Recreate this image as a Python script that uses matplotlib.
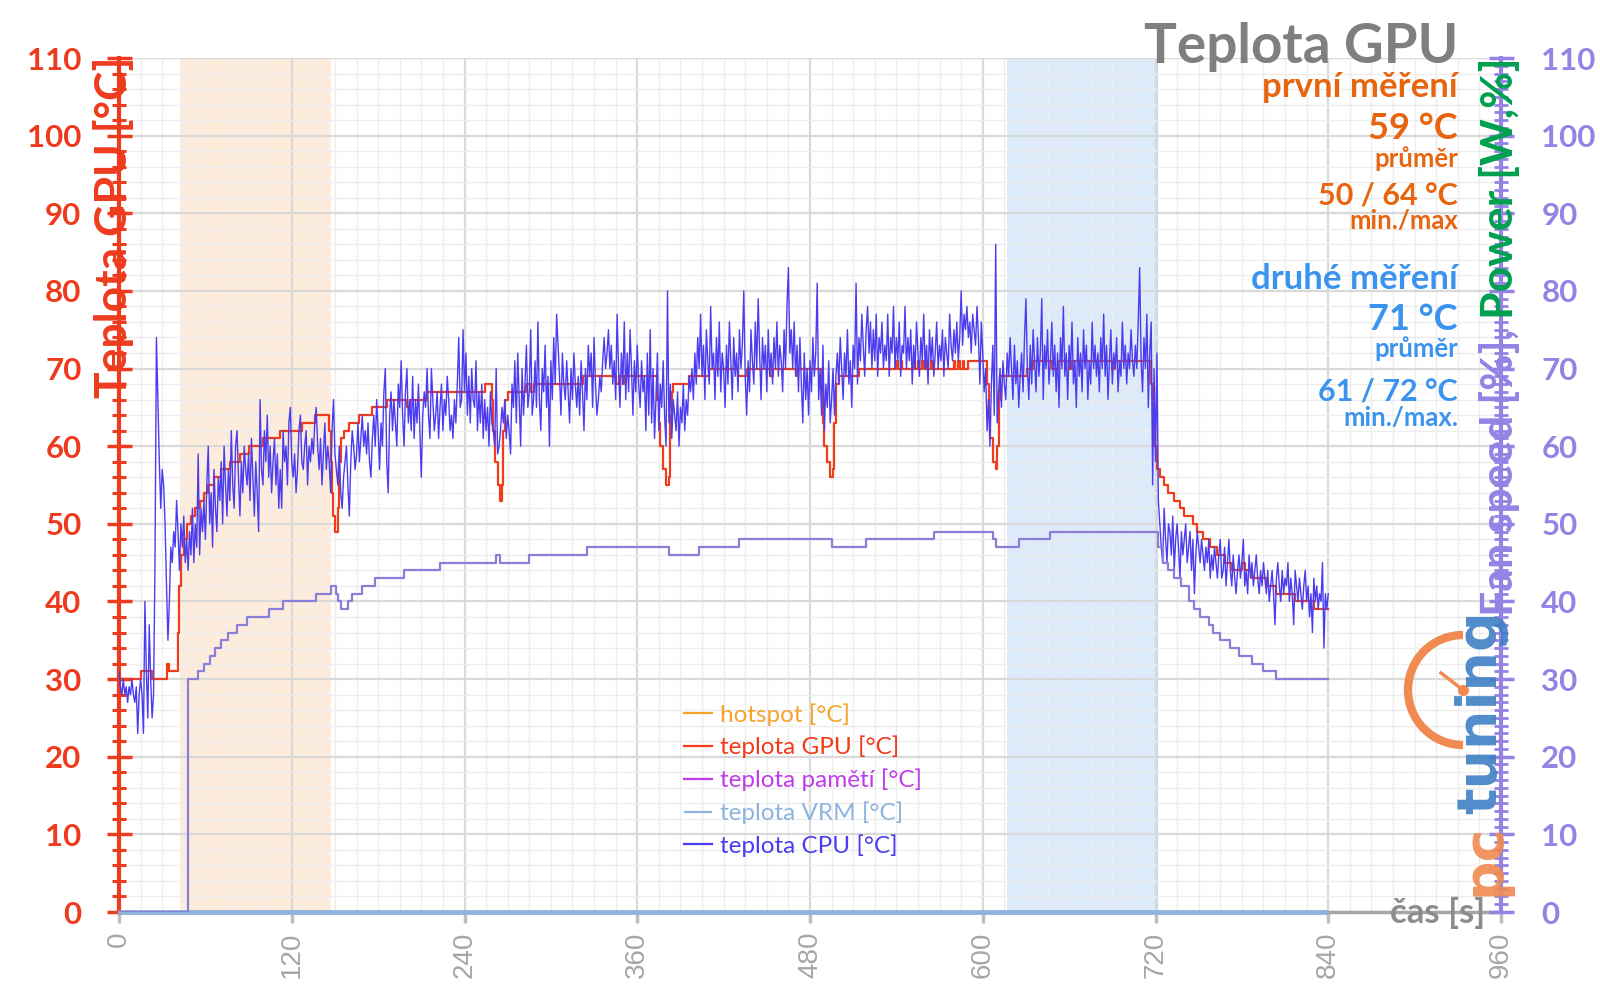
import matplotlib
matplotlib.use('Agg')
import matplotlib.pyplot as plt
from matplotlib.patches import Arc
import numpy as np

# ---------------- data ----------------
x_ticks = [0, 120, 240, 360, 480, 600, 720, 840, 960]
x_tick_labels = ['0', '120', '240', '360', '480', '600', '720', '840', '960']
y_ticks = [0, 10, 20, 30, 40, 50, 60, 70, 80, 90, 100, 110]
y_tick_labels = ['0', '10', '20', '30', '40', '50', '60', '70', '80', '90', '100', '110']

phase1 = (42.6, 147)   # first measurement window [s]
phase2 = (617, 720)    # second measurement window [s]

# teplota GPU [°C] (step changes)
gpu_t = [0, 15, 23, 33, 35, 41, 42, 43, 45, 47, 50, 53, 56, 59, 62, 66, 71, 77, 84, 90,
         100, 112, 127, 136, 146, 147, 148, 149, 150, 152, 153, 154, 156, 160, 167,
         176, 186, 200, 202, 214, 254, 259, 260, 261, 263, 265, 266, 267, 268, 270,
         283, 286, 288, 322, 345, 347, 350, 351, 374, 375, 376, 378, 380, 382, 383,
         384, 385, 396, 410, 430, 436, 452, 454, 471, 472, 488, 489, 490, 492, 494,
         496, 497, 498, 500, 514, 540, 541, 543, 544, 552, 553, 555, 556, 558, 559,
         561, 562, 564, 565, 580, 581, 583, 584, 586, 587, 590, 603, 604, 605, 607,
         609, 610, 611, 612, 631, 635, 648, 652, 660, 662, 690, 692, 717, 718, 719,
         721, 723, 726, 729, 733, 737, 740, 746, 749, 753, 758, 763, 768, 773, 780,
         782, 787, 797, 804, 817, 830, 840]
gpu_v = [30, 31, 30, 32, 31, 36, 42, 46, 48, 50, 51, 52, 53, 54, 55, 56, 57, 58, 59, 60,
         61, 62, 63, 64, 62, 58, 54, 51, 49, 52, 58, 61, 62, 63, 64,
         65, 66, 65, 66, 67, 68, 66, 62, 58, 55, 53, 55, 62, 66, 67,
         68, 67, 68, 69, 68, 69, 68, 69, 66, 63, 60, 57, 55, 56, 64,
         67, 68, 69, 70, 69, 70, 69, 70, 69, 70, 67, 63, 60, 58, 56,
         57, 63, 68, 69, 70, 71, 70, 71, 70, 71, 70, 71, 70, 71, 70,
         71, 70, 71, 70, 71, 70, 71, 70, 71, 70, 71, 68, 64, 61, 58,
         57, 60, 66, 69, 70, 71, 70, 71, 70, 71, 70, 71, 68, 63, 60,
         57, 56, 55, 54, 53, 52, 51, 50, 49, 48, 47, 46, 45, 44, 45,
         44, 43, 42, 41, 40, 39, 39]

# teplota CPU [°C], one sample per second, rows of 20 s
cpu_rows = [
    [31, 29, 28, 30, 28, 29, 27, 29, 28, 30, 28, 27, 29, 23, 28, 30, 28, 23, 40, 31],
    [25, 37, 30, 25, 28, 45, 74, 66, 58, 52, 57, 55, 50, 42, 35, 40, 47, 45, 49, 47],
    [53, 49, 44, 50, 47, 51, 45, 48, 44, 49, 46, 52, 45, 50, 47, 59, 46, 52, 49, 53],
    [48, 55, 60, 50, 54, 47, 57, 52, 49, 56, 53, 58, 50, 60, 55, 51, 57, 53, 62, 55],
    [52, 60, 62, 56, 51, 58, 54, 60, 57, 55, 59, 53, 61, 56, 51, 58, 54, 49, 66, 57],
    [55, 62, 58, 64, 56, 60, 54, 58, 61, 55, 59, 52, 57, 52, 62, 58, 60, 55, 63, 65],
    [58, 56, 59, 54, 57, 62, 64, 58, 57, 60, 62, 55, 60, 58, 61, 59, 63, 65, 60, 57],
    [61, 55, 59, 63, 57, 60, 58, 54, 62, 66, 59, 57, 55, 60, 54, 52, 56, 58, 60, 55],
    [51, 58, 62, 60, 57, 59, 63, 58, 61, 64, 60, 62, 59, 63, 58, 56, 61, 64, 60, 66],
    [62, 57, 63, 60, 67, 70, 58, 54, 64, 67, 62, 66, 63, 60, 68, 65, 71, 64, 60, 67],
    [70, 63, 66, 62, 69, 61, 66, 63, 68, 62, 56, 64, 67, 65, 70, 64, 61, 70, 66, 62],
    [64, 67, 61, 65, 68, 62, 66, 64, 69, 66, 62, 64, 61, 66, 63, 68, 74, 65, 66, 75],
    [67, 72, 64, 69, 63, 70, 66, 65, 71, 62, 67, 63, 68, 61, 66, 62, 65, 60, 67, 63],
    [62, 60, 70, 59, 60, 62, 65, 63, 66, 61, 64, 62, 59, 68, 65, 71, 63, 72, 66, 60],
    [70, 64, 68, 73, 65, 67, 75, 64, 66, 71, 65, 76, 66, 62, 70, 67, 73, 65, 69, 60],
    [71, 66, 74, 68, 77, 73, 69, 64, 72, 68, 66, 71, 67, 63, 70, 66, 72, 68, 65, 69],
    [64, 71, 67, 62, 70, 66, 73, 69, 72, 65, 74, 68, 64, 66, 69, 67, 71, 74, 70, 72],
    [75, 70, 73, 68, 71, 66, 77, 70, 65, 72, 68, 76, 66, 72, 67, 75, 70, 64, 71, 67],
    [73, 68, 65, 71, 67, 69, 62, 72, 64, 75, 63, 70, 61, 66, 72, 62, 68, 65, 71, 64],
    [60, 80, 63, 68, 61, 66, 64, 62, 67, 60, 65, 63, 68, 62, 66, 64, 69, 67, 70, 66],
    [72, 68, 74, 70, 77, 69, 73, 66, 75, 71, 68, 78, 70, 72, 66, 74, 69, 76, 67, 72],
    [70, 65, 73, 68, 76, 71, 66, 74, 69, 72, 67, 75, 70, 73, 80, 69, 64, 71, 67, 75],
    [71, 68, 76, 70, 79, 72, 66, 74, 70, 73, 67, 75, 69, 72, 68, 74, 70, 76, 69, 73],
    [71, 67, 75, 70, 78, 83, 72, 75, 70, 76, 69, 73, 67, 74, 68, 63, 72, 66, 70, 64],
    [71, 67, 74, 69, 72, 81, 66, 70, 64, 73, 62, 68, 65, 71, 63, 66, 70, 64, 69, 72],
    [68, 74, 70, 66, 72, 69, 75, 68, 71, 65, 73, 70, 81, 68, 74, 71, 77, 73, 69, 75],
    [78, 72, 76, 70, 75, 71, 77, 69, 74, 72, 76, 70, 73, 71, 77, 69, 74, 72, 78, 70],
    [74, 71, 76, 69, 73, 72, 78, 70, 74, 71, 75, 68, 73, 70, 76, 72, 69, 74, 71, 77],
    [70, 73, 68, 75, 71, 74, 69, 72, 76, 70, 73, 71, 75, 69, 74, 72, 70, 77, 73, 71],
    [75, 72, 76, 71, 74, 80, 73, 77, 75, 78, 74, 76, 72, 77, 75, 73, 78, 74, 68, 76],
    [72, 67, 70, 62, 66, 60, 68, 73, 64, 86, 63, 67, 70, 65, 71, 68, 66, 72, 69, 74],
    [70, 66, 73, 68, 71, 65, 69, 72, 67, 74, 79, 70, 66, 73, 68, 75, 71, 67, 74, 69],
    [72, 79, 66, 73, 70, 75, 68, 71, 76, 69, 73, 67, 72, 65, 74, 70, 78, 69, 72, 66],
    [73, 70, 76, 68, 71, 65, 74, 69, 72, 67, 75, 70, 73, 66, 71, 68, 76, 70, 73, 69],
    [72, 67, 74, 70, 77, 69, 73, 66, 71, 75, 68, 72, 70, 74, 67, 71, 69, 76, 70, 73],
    [68, 72, 70, 75, 71, 69, 73, 70, 76, 83, 71, 67, 74, 70, 77, 65, 72, 76, 55, 70],
    [58, 72, 53, 50, 47, 45, 52, 48, 45, 50, 49, 46, 51, 44, 48, 50, 47, 43, 49, 46],
    [48, 50, 45, 47, 49, 44, 48, 41, 46, 49, 47, 45, 48, 46, 44, 47, 45, 48, 43, 46],
    [44, 47, 45, 43, 46, 48, 43, 44, 47, 42, 45, 48, 44, 42, 46, 43, 41, 44, 46, 43],
    [45, 48, 42, 44, 41, 46, 43, 45, 42, 44, 46, 43, 41, 44, 42, 45, 43, 41, 44, 40],
    [42, 44, 41, 37, 43, 45, 42, 40, 44, 41, 43, 42, 45, 40, 43, 41, 37, 44, 42, 40],
    [43, 41, 39, 42, 44, 40, 42, 38, 41, 36, 43, 40, 42, 39, 41, 40, 45, 34, 41, 39],
    [41],
]
cpu_v = [v for row in cpu_rows for v in row]
cpu_t = np.arange(len(cpu_v))  # 1 s sampling

# Fan speed [%] (right axis, step changes)
fan_t = [0, 48, 55, 59, 63, 67, 71, 76, 82, 89, 104, 114, 137, 147, 151, 152, 154, 159,
         162, 169, 178, 198, 223, 262, 265, 285, 325, 382, 403, 431, 495, 519, 566, 607,
         609, 625, 647, 722, 725, 729, 733, 738, 743, 747, 751, 757, 760, 765, 772, 778,
         787, 795, 804, 840]
fan_v = [0, 30, 31, 32, 33, 34, 35, 36, 37, 38, 39, 40, 41, 42, 41, 40, 39, 40,
         41, 42, 43, 44, 45, 46, 45, 46, 47, 46, 47, 48, 47, 48, 49, 48,
         47, 48, 49, 47, 45, 44, 43, 42, 40, 39, 38, 37, 36, 35, 34, 33,
         32, 31, 30, 30]

# teplota VRM [°C] (no reading -> 0)
vrm_t = [0, 840]
vrm_v = [0, 0]
# hotspot / pamětí: no data in this test
hot_t, hot_v = [], []
mem_t, mem_v = [], []

# ---------------- colours ----------------
RED = '#EE3B1E'
PURPLE = '#9483E4'
GRAY_T = '#7F7F7F'
ORANGE = '#E8650F'
BLUE_T = '#3A93EE'
CPU_C = '#4B3CF0'
GPU_C = '#F03C18'
FAN_C = '#8A7ED8'
VRM_C = '#8DB4DE'
HOT_C = '#F5A32A'
MEM_C = '#C03CE8'

W, H = 1600, 1008
fig = plt.figure(figsize=(W / 100, H / 100), dpi=100)
L, R, T, B = 119, 1501, 58, 912
ax = fig.add_axes([L / W, 1 - B / H, (R - L) / W, (B - T) / H])
ax.set_xlim(0, 960)
ax.set_ylim(0, 110)

ax.axvspan(*phase1, color='#FBD3B0', alpha=0.45, lw=0, zorder=0.3)
ax.axvspan(*phase2, color='#BBD6F7', alpha=0.5, lw=0, zorder=0.3)
ax.axvline(phase2[1], color='#B5D2F2', lw=2, zorder=0.35)

ax.set_xticks(x_ticks)
ax.set_xticklabels(x_tick_labels)
ax.set_xticks(np.arange(0, 961, 15), minor=True)
ax.set_yticks(y_ticks)
ax.set_yticklabels(y_tick_labels)
ax.set_yticks(np.arange(0, 111, 2), minor=True)
ax.set_axisbelow(True)
ax.grid(which='major', color='#D9D9D9', lw=1.6)
ax.grid(which='minor', color='#EDEDED', lw=1.0)

for s in ['top', 'right']:
    ax.spines[s].set_visible(False)
ax.spines['left'].set_color(RED)
ax.spines['left'].set_linewidth(3)
ax.spines['bottom'].set_color('#A6A6A6')
ax.spines['bottom'].set_linewidth(2.5)

ax.tick_params(axis='y', which='major', direction='inout', length=18, width=2.5,
               color=RED, labelcolor=RED, labelsize=22.5, pad=18)
ax.tick_params(axis='y', which='minor', direction='inout', length=10, width=2.2, color=RED)
ax.tick_params(axis='x', which='major', direction='out', length=8, width=2.5,
               color='#BDBDBD', labelcolor='#A6A6A6', labelsize=20, pad=6, labelrotation=90)
ax.tick_params(axis='x', which='minor', length=0)
for lb in ax.get_yticklabels():
    lb.set_fontfamily('Lato')
    lb.set_fontweight('bold')
for lb in ax.get_xticklabels():
    lb.set_fontfamily('Liberation Sans')

h_hot, = ax.plot(hot_t, hot_v, color=HOT_C, lw=1.5, label='hotspot [°C]')
h_gpu, = ax.plot(gpu_t, gpu_v, color=GPU_C, lw=1.6, drawstyle='steps-post',
                 label='teplota GPU [°C]', zorder=2.5)
h_mem, = ax.plot(mem_t, mem_v, color=MEM_C, lw=1.5, label='teplota pamětí [°C]')
h_vrm, = ax.plot(vrm_t, vrm_v, color=VRM_C, lw=3.4, label='teplota VRM [°C]',
                 zorder=4, clip_on=False, solid_capstyle='butt')
h_cpu, = ax.plot(cpu_t, cpu_v, color=CPU_C, lw=1.0, label='teplota CPU [°C]', zorder=3)

ax2 = ax.twinx()
ax2.set_ylim(0, 110)
for s in ['top', 'left', 'bottom']:
    ax2.spines[s].set_visible(False)
ax2.spines['right'].set_color(PURPLE)
ax2.spines['right'].set_linewidth(3)
ax2.set_yticks(y_ticks)
ax2.set_yticklabels(y_tick_labels)
ax2.set_yticks(np.arange(0, 111, 1), minor=True)
ax2.tick_params(axis='y', which='major', direction='inout', length=18, width=2.5,
                color=PURPLE, labelcolor=PURPLE, labelsize=22.5, pad=20)
ax2.tick_params(axis='y', which='minor', direction='inout', length=10, width=2.0, color=PURPLE)
for lb in ax2.get_yticklabels():
    lb.set_fontfamily('Lato')
    lb.set_fontweight('bold')
ax2.plot(fan_t, fan_v, color=FAN_C, lw=1.6, drawstyle='steps-post', zorder=2)

leg = ax.legend(handles=[h_hot, h_gpu, h_mem, h_vrm, h_cpu],
                loc='upper left', bbox_to_anchor=(684 / W, 1 - 703 / H),
                bbox_transform=fig.transFigure, frameon=False,
                prop={'family': 'Lato', 'size': 17.5}, handlelength=1.15,
                handletextpad=0.35, labelspacing=0.42, borderaxespad=0, borderpad=0)
for txt, h in zip(leg.get_texts(), [h_hot, h_gpu, h_mem, h_vrm, h_cpu]):
    txt.set_color(h.get_color())
for lh in leg.get_lines():
    lh.set_linewidth(1.6)

# ---------------- overlay in pixel coordinates ----------------
ov = fig.add_axes([0, 0, 1, 1])
ov.set_xlim(0, W)
ov.set_ylim(H, 0)
ov.axis('off')
ov.patch.set_alpha(0)

bold = dict(family='Lato', fontweight='bold')
XR = 1458
ov.text(XR, 63, 'Teplota GPU', ha='right', va='baseline', color=GRAY_T, fontsize=39.5, **bold)
ov.text(XR, 97, 'první měření', ha='right', va='baseline', color=ORANGE, fontsize=25, **bold)
ov.text(XR, 139, '59 °C', ha='right', va='baseline', color=ORANGE, fontsize=26, **bold)
ov.text(XR, 167, 'průměr', ha='right', va='baseline', color=ORANGE, fontsize=18.5, **bold)
ov.text(XR, 204, '50 / 64 °C', ha='right', va='baseline', color=ORANGE, fontsize=22, **bold)
ov.text(XR, 229, 'min./max', ha='right', va='baseline', color=ORANGE, fontsize=18.5, **bold)
ov.text(XR, 289, 'druhé měření', ha='right', va='baseline', color=BLUE_T, fontsize=25, **bold)
ov.text(XR, 330, '71 °C', ha='right', va='baseline', color=BLUE_T, fontsize=26, **bold)
ov.text(XR, 357, 'průměr', ha='right', va='baseline', color=BLUE_T, fontsize=18.5, **bold)
ov.text(XR, 400, '61 / 72 °C', ha='right', va='baseline', color=BLUE_T, fontsize=22, **bold)
ov.text(XR, 426, 'min./max.', ha='right', va='baseline', color=BLUE_T, fontsize=18.5, **bold)

# axis titles
ov.text(114, 57, 'Teplota GPU [°C]', rotation=90, ha='center', va='top',
        color=RED, fontsize=32, **bold)
t_pow = ov.text(1500, 57, 'Power [W,%]', rotation=90, ha='center', va='top',
                color='#00A050', fontsize=32, **bold)
fig.canvas.draw()
rend = fig.canvas.get_renderer()
bb = t_pow.get_window_extent(rend)
ov.text(1500, H - bb.y0, 'Fan speed [%], ', rotation=90, ha='center', va='top',
        color=PURPLE, fontsize=32, **bold)

ov.text(1390, 923, 'čas [s]', ha='left', va='baseline', color='#8C8C8C', fontsize=25, **bold)

# logo
ov.add_patch(Arc((1463, 690), 110, 110, theta1=90, theta2=270, color='#F08A50', lw=6))
ov.plot([1463, 1441], [690, 673], color='#F08A50', lw=2.5)
ov.plot([1463], [690], 'o', color='#F08A50', ms=7)
ov.text(1484, 860, 'pc', rotation=90, ha='center', va='center', color='#F08A50',
        fontsize=40, family='DejaVu Sans', fontweight='bold', alpha=0.9)
ov.text(1481, 712, 'tuning', rotation=90, ha='center', va='center', color='#3F7FC4',
        fontsize=40, family='DejaVu Sans', fontweight='bold', alpha=0.9)

fig.savefig('out.png', dpi=100)
